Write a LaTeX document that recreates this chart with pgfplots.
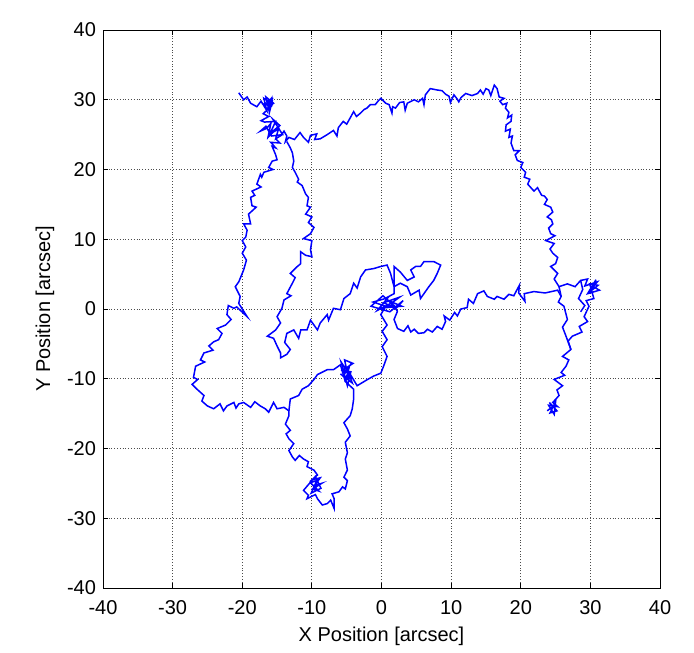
\documentclass[border=0pt]{standalone}
\usepackage{fontspec}
\setmainfont{Liberation Sans}
\usepackage{pgfplots}
\pgfplotsset{compat=1.18}
\pgfplotsset{traj/.style={color=blue, line width=0.75pt, mark=none}}

\begin{document}
\fontsize{10}{12}\selectfont
\begin{tikzpicture}
\begin{axis}[name=ax, scale only axis, width=278.5pt, height=279pt,
    xmin=-40, xmax=40, ymin=-40, ymax=40,
    xtick={-40,-30,...,40}, ytick={-40,-30,...,40},
    grid=major, major grid style={densely dotted, black!70, line width=0.4pt},
    axis line style={black, line width=0.5pt},
    major tick length=2.5pt, tick style={black, line width=0.4pt},
    /pgf/number format/assume math mode=true,
    ticklabel style={font=\fontsize{10}{12}\selectfont},
    xticklabel style={yshift=-2.5pt},
    label style={font=\fontsize{10}{12}\selectfont},
    xlabel={X Position [arcsec]}, ylabel={Y Position [arcsec]},
    xlabel style={yshift=0.5pt}, ylabel style={yshift=-0.5pt}]
% top branch, right side, right cluster, down to end
\addplot[traj] coordinates {(-20.5,31.0) (-19.8,30.0) (-19.3,30.4) (-18.8,29.5) (-17.9,29.0)
 (-17.3,29.8) (-16.5,28.5) (-16.9,30.2) (-16.0,29.6) (-15.6,30.3) (-16.4,28.6)
 (-16.8,29.0) (-15.9,30.1) (-16.3,28.9) (-15.5,29.5) (-16.6,30.4) (-16.1,28.2)
 (-15.7,29.8) (-16.9,29.4) (-15.8,29.1) (-17.0,28.0) (-16.2,27.6) (-17.3,27.0)
 (-16.8,26.8) (-15.2,26.9) (-16.0,25.2) (-14.6,26.3) (-15.6,27.2) (-14.2,25.0)
 (-15.8,24.8) (-16.6,26.2) (-17.4,25.5) (-16.5,25.9) (-15.9,26.6) (-16.3,24.6)
 (-15.5,25.4) (-14.8,25.8) (-15.2,24.4) (-14.4,24.9) (-14.0,25.5) (-13.6,24.8)
 (-13.8,24.0) (-13.3,24.6) (-12.5,24.3)
 (-11.7,25.3) (-11.2,24.6) (-10.5,23.9) (-10.2,24.9) (-9.3,25.1) (-9.6,24.3)
 (-8.8,24.4) (-7.8,25.0) (-6.9,25.6) (-6.4,24.8) (-6.2,26.0) (-5.5,26.9)
 (-5.0,26.5) (-4.5,27.4) (-4.0,28.3) (-3.6,27.6) (-3.0,28.1) (-2.5,28.6)
 (-2.1,28.8) (-1.6,29.3) (-0.9,29.3) (-0.5,29.8) (-0.1,30.2) (0.6,29.5)
 (1.1,29.3) (1.5,28.1) (1.6,29.0) (2.0,28.8) (2.6,29.6) (3.2,29.7) (3.4,28.5)
 (3.7,29.5) (4.7,30.0) (5.3,29.7) (5.9,30.2) (6.1,29.3) (6.3,30.7) (7.0,31.6)
 (8.0,31.4) (8.7,31.3) (9.2,30.8) (9.7,30.5) (9.9,29.6) (10.4,30.7) (10.8,30.2)
 (11.1,29.7) (11.4,30.3) (12.1,30.9) (13.0,30.6) (13.8,30.9) (14.2,31.4)
 (14.6,30.8) (15.0,31.6) (15.4,31.4) (15.7,30.6) (16.2,32.1) (16.6,31.6)
 (16.9,30.4) (17.6,30.2) (17.0,29.8) (17.4,29.3) (18.0,29.5) (17.8,28.8)
 (18.3,28.2) (18.1,27.4) (18.7,27.8) (18.6,26.9) (17.9,26.4) (17.8,25.5)
 (18.5,25.8) (18.3,24.6) (18.8,24.8) (18.6,23.8) (19.0,22.7) (19.8,22.7)
 (19.2,22.1) (19.5,21.3) (20.3,21.0) (20.0,20.3) (20.7,19.6) (20.5,18.9)
 (21.3,18.6) (21.0,17.9) (21.9,16.9) (22.4,17.4) (23.0,16.3) (23.4,16.2)
 (23.8,15.7) (23.4,15.0) (24.3,14.6) (24.6,13.9) (23.8,13.2) (24.4,12.8)
 (24.6,12.2) (24.0,11.6) (24.3,10.8) (24.9,10.5) (23.6,9.8) (24.8,9.4)
 (24.2,8.6) (24.6,8.0) (25.3,7.4) (25.0,6.5) (24.3,6.1) (25.3,5.1) (24.8,4.3)
 (25.5,3.2) (26.7,3.6) (27.8,3.2) (28.6,4.1) (29.6,4.3) (29.2,3.3) (31.0,3.9)
 (30.4,3.2) (31.3,2.7) (29.6,2.2) (30.8,4.2) (30.1,2.6) (31.1,3.4) (29.9,3.6)
 (30.5,1.5) (29.4,1.2) (29.8,0.4) (29.1,-1.1)
 (29.6,-1.8) (28.4,-2.5) (28.8,-3.3) (27.4,-3.9) (26.8,-4.6) (27.2,-5.8)
 (26.0,-6.8) (26.9,-7.3) (26.5,-8.2) (25.8,-9.1) (26.3,-9.5) (24.8,-10.1)
 (26.0,-11.0) (25.2,-11.6) (25.5,-12.4) (24.6,-13.4) (25.3,-14.0) (24.0,-13.8)
 (24.8,-15.1) (25.0,-13.3) (24.2,-14.9) (25.2,-14.6) (24.1,-13.4) (24.7,-14.0)
 (24.3,-14.2) (23.8,-14.6)};
\addplot[traj] coordinates {(25.5,3.2) (25.8,1.8) (25.4,1.0) (26.2,0.4) (26.7,-1.5)
 (26.0,-2.6) (26.5,-3.9) (27.2,-5.8)};
\addplot[traj] coordinates {(28.6,4.1) (28.9,2.8) (28.3,1.5) (29.2,0.5) (28.6,-0.4)};
% left vertical, left lobe, bottom loop, back to centre
\addplot[traj] coordinates {(-15.2,24.4) (-14.8,24.0) (-14.6,23.8) (-15.9,23.9) (-15.2,23.1) (-15.7,23.3)
 (-15.2,22.1) (-15.0,21.4) (-15.7,21.2) (-16.2,20.3) (-15.6,20.0) (-16.9,19.6)
 (-17.2,18.9) (-17.4,19.3) (-17.9,17.9) (-17.3,17.5) (-18.6,16.9) (-18.2,16.3)
 (-18.8,16.0) (-18.6,14.8) (-18.0,14.6) (-19.1,13.6) (-18.8,12.2) (-19.8,12.2)
 (-19.3,11.3) (-19.5,10.3) (-20.0,9.8) (-19.5,8.9) (-20.0,8.0) (-19.4,7.0)
 (-19.8,5.6) (-20.5,3.9) (-21.0,3.2) (-20.3,1.8) (-20.5,0.8) (-19.3,-1.1)
 (-20.8,0.3) (-21.2,0.1) (-22.0,0.5) (-22.2,-0.8) (-21.6,-1.5) (-22.4,-2.3)
 (-23.6,-2.8) (-22.9,-3.5) (-23.4,-4.4) (-24.1,-4.7) (-24.8,-5.3) (-24.2,-5.9)
 (-25.5,-6.3) (-26.0,-7.3) (-25.4,-7.6) (-26.7,-8.2) (-27.0,-9.8) (-26.4,-10.1)
 (-27.2,-10.8) (-26.5,-11.5) (-25.5,-12.4) (-25.8,-13.2) (-25.0,-13.9)
 (-24.1,-14.3) (-23.2,-13.6) (-22.7,-14.6) (-22.2,-13.9) (-21.2,-13.4)
 (-20.9,-14.2) (-20.5,-13.6) (-19.8,-13.4) (-18.8,-14.1) (-18.2,-13.3)
 (-17.4,-13.9) (-16.7,-14.3) (-16.2,-14.8) (-15.5,-13.4) (-15.0,-14.3)
 (-14.0,-14.1) (-13.3,-14.6) (-13.3,-15.3) (-13.8,-16.5) (-13.1,-17.4)
 (-13.7,-17.9) (-13.3,-18.6) (-12.6,-19.3) (-13.3,-20.3) (-12.8,-21.2)
 (-12.4,-21.7) (-11.8,-21.0) (-11.2,-21.5) (-10.5,-21.9) (-10.7,-22.6)
 (-9.7,-23.1) (-9.2,-23.8) (-10.0,-24.5) (-8.8,-24.2) (-9.6,-25.3) (-8.6,-25.0)
 (-9.9,-25.8) (-9.0,-26.1) (-10.2,-24.9) (-9.3,-24.6) (-10.1,-26.4) (-8.7,-25.7)
 (-9.5,-24.0) (-11.2,-26.0) (-10.5,-26.7)
 (-10.7,-27.2) (-9.5,-26.6) (-9.2,-27.2) (-8.5,-28.1) (-7.8,-27.9)
 (-7.3,-27.4) (-6.8,-28.6) (-6.8,-27.2) (-7.1,-26.5) (-6.1,-26.2) (-5.6,-25.5)
 (-5.2,-25.8) (-4.9,-24.6) (-5.4,-24.1) (-4.9,-23.1) (-5.2,-21.5) (-4.9,-20.6)
 (-5.2,-19.1) (-4.5,-18.2) (-4.9,-17.2) (-5.4,-16.3) (-4.5,-15.3) (-4.2,-14.3)
 (-4.0,-12.9) (-4.0,-11.5) (-5.2,-10.4) (-4.6,-8.2) (-5.5,-9.6) (-4.3,-9.9)
 (-5.8,-7.6) (-4.9,-11.0) (-4.4,-9.0) (-5.6,-8.8) (-4.1,-7.8) (-5.3,-7.3)
 (-4.7,-10.2) (-5.9,-9.3) (-4.2,-10.6) (-5.0,-8.5) (-3.5,-11.0)
 (-2.0,-10.1) (-1.1,-9.6) (-0.1,-9.2) (0.3,-8.2) (0.8,-6.8) (0.1,-5.4)
 (0.8,-4.4) (0.1,-3.2) (0.8,-2.3) (-0.1,-0.8) (0.6,0.4) (-1.2,1.0) (0.9,1.6)
 (-0.6,-0.2) (1.5,0.9) (2.6,1.7) (0.3,0.9) (2.1,0.1) (3.1,1.2) (1.2,-0.4)
 (-1.5,0.4) (0.2,1.9) (1.8,0.5) (-0.4,0.1) (2.9,0.4) (1.0,1.2) (2.3,-0.3)};
% lower left lobe to the cluster at (-5,-10)
\addplot[traj] coordinates {(-13.3,-14.6) (-13.1,-12.9) (-11.9,-12.4) (-11.4,-11.5)
 (-10.5,-11.0) (-9.7,-10.1) (-9.2,-9.4) (-7.8,-8.7) (-6.9,-8.7) (-5.9,-8.0)
 (-5.2,-10.4)};
% middle strand, centre loop
\addplot[traj] coordinates {(-13.6,24.0) (-13.1,23.1) (-12.8,22.4) (-12.6,21.2)
 (-12.8,20.3) (-12.4,19.6) (-11.9,18.6) (-12.1,18.2) (-11.4,17.7) (-10.9,16.5)
 (-10.5,16.0) (-10.7,14.8) (-10.2,14.6) (-10.9,13.6) (-10.0,13.2) (-10.5,12.4)
 (-9.7,11.7) (-10.2,10.8) (-11.2,10.1) (-10.0,9.8) (-10.2,8.5) (-10.0,7.5)
 (-10.9,7.7) (-11.6,8.2) (-11.6,6.5) (-12.2,6.0) (-13.1,5.1) (-12.4,4.5)
 (-12.8,3.7) (-13.6,2.2) (-13.0,1.9) (-14.0,1.3) (-14.3,0.1) (-15.0,-1.1)
 (-14.5,-2.0) (-15.2,-3.0) (-16.4,-3.9) (-15.5,-4.2) (-15.0,-5.3) (-14.5,-6.3)
 (-14.5,-7.0) (-13.6,-6.5) (-13.1,-5.8) (-13.9,-4.8) (-13.6,-3.5) (-12.6,-3.0)
 (-11.9,-4.2) (-11.6,-3.0) (-10.7,-3.0) (-10.2,-1.6) (-9.2,-3.0) (-8.8,-2.0)
 (-7.8,-0.8) (-7.6,-1.6) (-6.9,0.1) (-5.9,-0.1) (-5.4,1.5) (-4.5,2.2)
 (-4.0,3.7) (-3.5,3.0) (-3.0,4.6) (-2.3,5.6) (-1.1,5.8) (-0.1,6.1) (0.8,6.3)
 (1.3,5.1) (1.8,3.2) (2.7,3.7) (3.7,3.2) (4.2,2.0) (5.4,2.7) (5.6,1.5)
 (6.8,3.2) (7.5,4.1) (8.0,5.1) (8.5,6.3) (7.5,6.8) (6.1,6.8) (5.6,6.1)
 (4.9,6.1) (4.2,5.6) (4.7,4.6) (3.7,4.1) (2.7,5.3) (1.8,6.1) (1.8,4.0)
 (1.8,2.2) (0.5,1.5)};
% centre to right
\addplot[traj] coordinates {(2.3,-0.3) (1.8,-1.5) (2.3,-2.8) (3.2,-3.2) (3.8,-2.4)
 (4.2,-3.3) (4.7,-2.9) (5.3,-3.5) (6.1,-3.4) (6.6,-2.9) (7.3,-3.3) (8.0,-2.5)
 (8.7,-2.9) (9.2,-1.8) (9.0,-1.0) (9.8,-1.6) (10.5,-0.5) (10.9,-1.0)
 (11.4,0.0) (12.3,0.2) (12.5,1.4) (13.2,0.8) (13.8,2.2) (14.7,2.6) (15.2,1.8)
 (16.2,1.4) (16.6,1.8) (17.6,1.4) (18.3,2.1) (19.0,1.9) (19.8,3.4) (19.7,2.3)
 (20.6,1.1) (20.5,2.2) (21.9,2.5) (23.5,2.3) (25.3,2.7) (25.8,1.8)};
\end{axis}
\path (ax.south west) ++(-51.5pt,-31pt) rectangle ([shift={(17pt,15pt)}]ax.north east);
\end{tikzpicture}
\end{document}
